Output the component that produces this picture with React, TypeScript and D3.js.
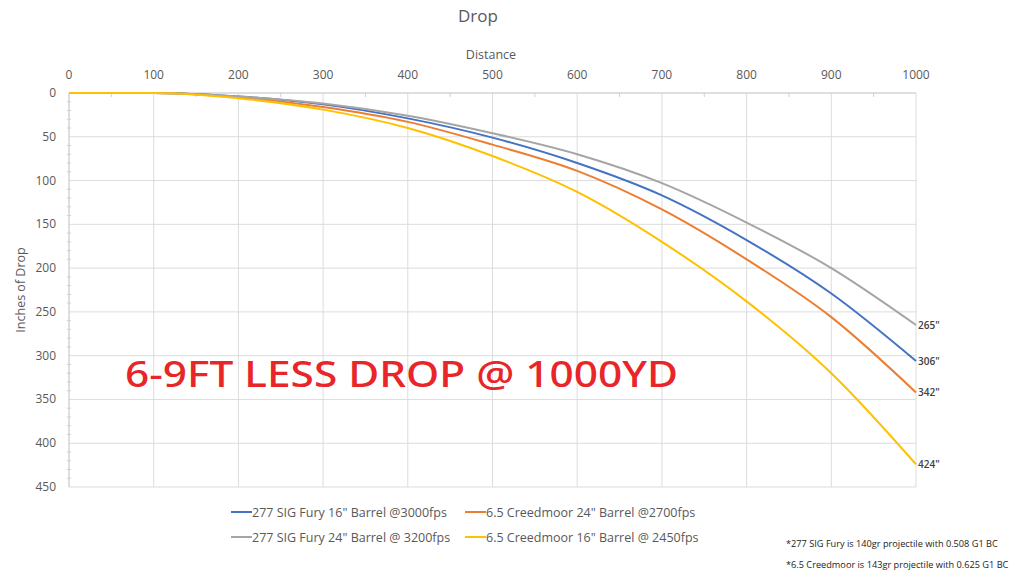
import React from 'react';
import * as d3 from 'd3';

// distance in yards, drop in inches
const distances = [0, 100, 200, 300, 400, 500, 600, 700, 800, 900, 1000];
const sig16 = [0, 0, 4, 13, 29, 51, 80, 117, 168, 229, 306];
const sig24 = [0, 0, 4, 12, 26, 46, 70, 103, 148, 200, 265];
const cm24 = [0, 0, 5, 16, 33, 59, 89, 133, 190, 256, 342];
const cm16 = [0, 0, 6, 19, 40, 72, 113, 170, 238, 320, 424];

const seriesNames = [
    '277 SIG Fury 16" Barrel @3000fps',
    '6.5 Creedmoor 24" Barrel @2700fps',
    '277 SIG Fury 24" Barrel @ 3200fps',
    '6.5 Creedmoor 16" Barrel @ 2450fps',
];
const seriesColors = ['#4472c4', '#ed7d31', '#a5a5a5', '#ffc000'];
const seriesValues = [sig16, cm24, sig24, cm16];

const xTickValues = [0, 100, 200, 300, 400, 500, 600, 700, 800, 900, 1000];
const yTickValues = [0, 50, 100, 150, 200, 250, 300, 350, 400, 450];

const footnotes = [
    '*277 SIG Fury is 140gr projectile with 0.508 G1 BC',
    '*6.5 Creedmoor is 143gr projectile with 0.625 G1 BC',
];

const width = 1035;
const height = 576;
const margin = { t: 93, b: 89, l: 69, r: 119 };
const font = '"Open Sans", "Liberation Sans", sans-serif';

export default function App() {
    const x = d3.scaleLinear().domain([0, 1000]).range([margin.l, width - margin.r]);
    const y = d3.scaleLinear().domain([0, 450]).range([margin.t, height - margin.b]);

    const line = d3.line<number>()
        .x((d, i) => x(distances[i]))
        .y(d => y(d))
        .curve(d3.curveMonotoneX);

    const xMinor = d3.range(50, 1000, 100);
    const yMinor = d3.range(0, 451, 10).filter(d => d % 50 !== 0);

    return (
        <div style={{ position: 'fixed', left: 0, top: 0 }}>
            <svg width={width} height={height} style={{ display: 'block', background: '#fff' }}>
                <text x={478} y={22} textAnchor="middle" fontFamily={font} fontSize={17} fill="#595959">Drop</text>
                <text x={491} y={59} textAnchor="middle" fontFamily={font} fontSize={12.5} fill="#595959">Distance</text>
                <text transform={`translate(25,${(margin.t + height - margin.b) / 2}) rotate(-90)`}
                      textAnchor="middle" fontFamily={font} fontSize={12.5} fill="#595959">Inches of Drop</text>

                {/* gridlines */}
                {yTickValues.map(d =>
                    <line key={'gy' + d} x1={x(0)} x2={x(1000)} y1={y(d)} y2={y(d)} stroke="#dcdcdc" strokeWidth={1}/>)}
                {xTickValues.map(d =>
                    <line key={'gx' + d} x1={x(d)} x2={x(d)} y1={y(0)} y2={y(450)} stroke="#dcdcdc" strokeWidth={1}/>)}

                {/* minor ticks */}
                {xMinor.map(d =>
                    <line key={'mx' + d} x1={x(d)} x2={x(d)} y1={y(0)} y2={y(0) + 4} stroke="#d0d0d0"/>)}
                {yMinor.map(d =>
                    <line key={'my' + d} x1={x(0) - 2} x2={x(0) + 2} y1={y(d)} y2={y(d)} stroke="#d0d0d0"/>)}
                <line x1={x(0)} x2={x(1000)} y1={y(0)} y2={y(0)} stroke="#d0d0d0"/>
                <line x1={x(0)} x2={x(0)} y1={y(0)} y2={y(450)} stroke="#d0d0d0"/>

                {/* tick labels */}
                {xTickValues.map(d =>
                    <text key={'tx' + d} x={x(d)} y={79} textAnchor="middle" fontFamily={font} fontSize={12} fill="#595959">{d}</text>)}
                {yTickValues.map(d =>
                    <text key={'ty' + d} x={56} y={y(d) + 4} textAnchor="end" fontFamily={font} fontSize={12} fill="#595959">{d}</text>)}

                {/* series */}
                {seriesValues.map((vals, i) =>
                    <path key={seriesNames[i]} d={line(vals) || ''} fill="none" stroke={seriesColors[i]} strokeWidth={2}/>)}

                {/* end labels */}
                {seriesValues.map((vals, i) =>
                    <text key={'end' + i} x={x(1000) + 2} y={y(vals[vals.length - 1]) + 4} fontFamily={font}
                          fontSize={10} fontWeight={600} fill="#404040">{vals[vals.length - 1]}"</text>)}

                <text x={125} y={387} fontFamily='"Noto Sans", sans-serif' fontSize={36} fontWeight={500}
                      textLength={553} lengthAdjust="spacingAndGlyphs" fill="#e8262a">6-9FT LESS DROP @ 1000YD</text>

                {/* legend */}
                {seriesNames.map((name, i) => {
                    const lx = i % 2 === 0 ? 231 : 465;
                    const ly = i < 2 ? 512 : 537;
                    return (
                        <g key={'lg' + i}>
                            <line x1={lx} x2={lx + 21} y1={ly} y2={ly} stroke={seriesColors[i]} strokeWidth={2}/>
                            <text x={lx + 21} y={ly + 4.5} fontFamily={font} fontSize={12.5} fill="#595959">{name}</text>
                        </g>
                    );
                })}

                {footnotes.map((t, i) =>
                    <text key={'fn' + i} x={786} y={547 + i * 21} fontFamily={font} fontSize={9.2} fill="#222">{t}</text>)}
            </svg>
        </div>
    );
}
